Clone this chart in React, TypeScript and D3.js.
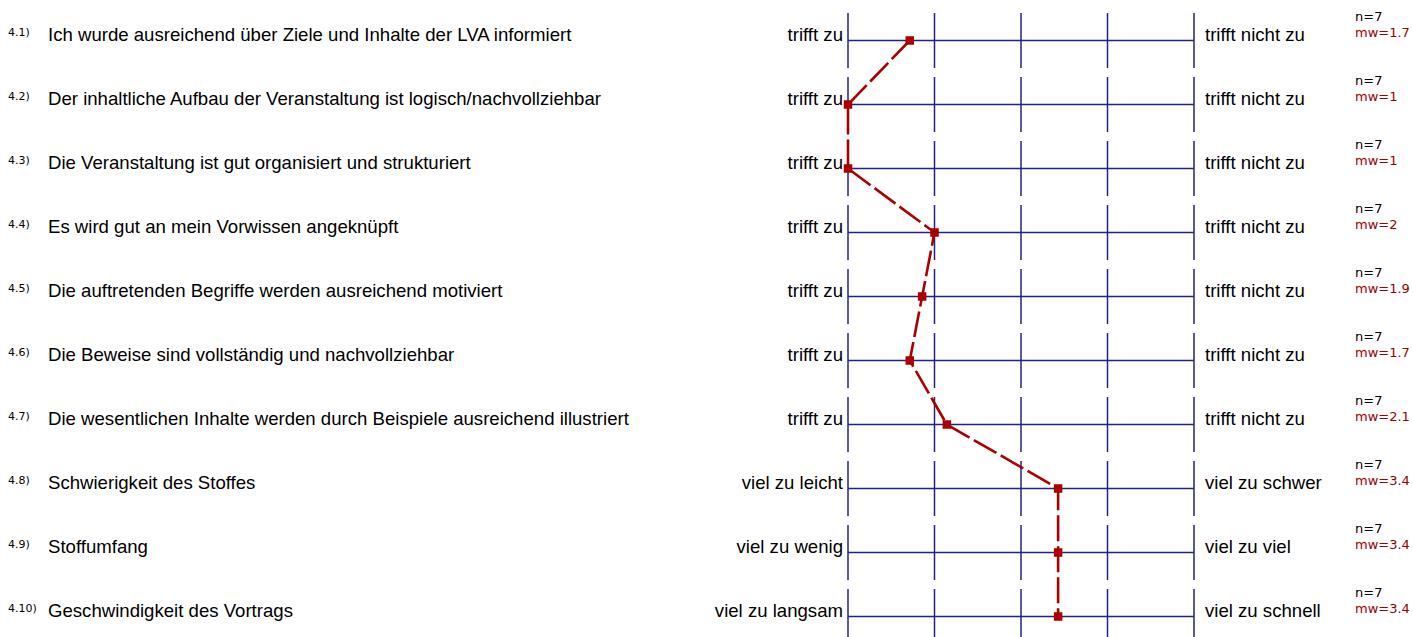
import React from "react";
import * as d3 from "d3";

const numbers = ["4.1)", "4.2)", "4.3)", "4.4)", "4.5)", "4.6)", "4.7)", "4.8)", "4.9)", "4.10)"];
const questions = [
  "Ich wurde ausreichend über Ziele und Inhalte der LVA informiert",
  "Der inhaltliche Aufbau der Veranstaltung ist logisch/nachvollziehbar",
  "Die Veranstaltung ist gut organisiert und strukturiert",
  "Es wird gut an mein Vorwissen angeknüpft",
  "Die auftretenden Begriffe werden ausreichend motiviert",
  "Die Beweise sind vollständig und nachvollziehbar",
  "Die wesentlichen Inhalte werden durch Beispiele ausreichend illustriert",
  "Schwierigkeit des Stoffes",
  "Stoffumfang",
  "Geschwindigkeit des Vortrags",
];
const leftLabels = ["trifft zu", "trifft zu", "trifft zu", "trifft zu", "trifft zu", "trifft zu", "trifft zu", "viel zu leicht", "viel zu wenig", "viel zu langsam"];
const rightLabels = ["trifft nicht zu", "trifft nicht zu", "trifft nicht zu", "trifft nicht zu", "trifft nicht zu", "trifft nicht zu", "trifft nicht zu", "viel zu schwer", "viel zu viel", "viel zu schnell"];
const nValues = [7, 7, 7, 7, 7, 7, 7, 7, 7, 7];
const means = [1.714, 1, 1, 2, 1.857, 1.714, 2.143, 3.429, 3.429, 3.429];
const scaleTicks = [1, 2, 3, 4, 5];

const W = 1413;
const H = 637;
const BLUE = "#23237f";
const RED = "#aa0000";
const fmt = d3.format(".1~f");

export default function App() {
  const x = d3.scaleLinear().domain([1, 5]).range([848, 1194]);
  const y = d3.scaleLinear().domain([0, 9]).range([40.5, 616.5]);
  const idx = d3.range(questions.length);
  const line = d3
    .line<number>()
    .x((i) => x(means[i]))
    .y((i) => y(i));
  const ms = 8.5;
  const mainFont = "Liberation Sans, Arial, sans-serif";
  return (
    <svg
      width={W}
      height={H}
      style={{ position: "absolute", left: 0, top: 0, background: "#fff" }}
    >
      {idx.map((i) => (
        <g key={i}>
          <text x={8} y={y(i) - 5} fontFamily="DejaVu Sans" fontSize={11} fill="#000">
            {numbers[i]}
          </text>
          <text x={48} y={y(i) + 0.5} fontFamily={mainFont} fontSize={18.6} fill="#000">
            {questions[i]}
          </text>
          <text x={843} y={y(i) + 0.5} textAnchor="end" fontFamily={mainFont} fontSize={18.6} fill="#000">
            {leftLabels[i]}
          </text>
          <text x={1205} y={y(i) + 0.5} fontFamily={mainFont} fontSize={18.6} fill="#000">
            {rightLabels[i]}
          </text>
          <text x={1355} y={y(i) - 19.5} fontFamily="DejaVu Sans" fontSize={13} fill="#000">
            {"n=" + nValues[i]}
          </text>
          <text x={1355} y={y(i) - 4} fontFamily="DejaVu Sans" fontSize={13} fill="#9a0000">
            {"mw=" + fmt(means[i])}
          </text>
          <line x1={x(1)} x2={x(5)} y1={y(i)} y2={y(i)} stroke={BLUE} strokeWidth={1.5} />
          {scaleTicks.map((t) => (
            <line
              key={t}
              x1={x(t)}
              x2={x(t)}
              y1={y(i) - 27.5}
              y2={y(i) + 27.5}
              stroke={BLUE}
              strokeWidth={1.5}
            />
          ))}
        </g>
      ))}
      <path
        d={line(idx) || ""}
        fill="none"
        stroke={RED}
        strokeWidth={2.6}
        strokeDasharray="26,5"
      />
      {idx.map((i) => (
        <rect
          key={i}
          x={x(means[i]) - ms / 2}
          y={y(i) - ms / 2}
          width={ms}
          height={ms}
          fill={RED}
        />
      ))}
    </svg>
  );
}
